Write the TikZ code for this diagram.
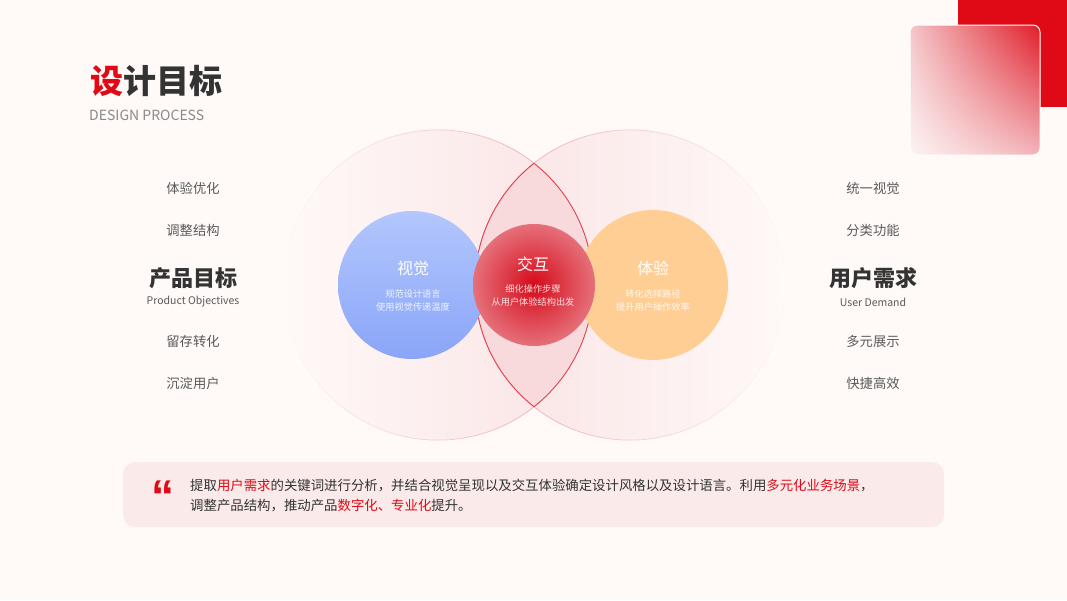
\documentclass[tikz,border=0pt]{standalone}
\usepackage{fontspec}
\setmainfont{Noto Sans CJK SC}
\newfontfamily\quotefont{Liberation Sans}
\usetikzlibrary{shadings}
\definecolor{bg}{HTML}{FFF9F8}
\definecolor{brand}{HTML}{E00A16}
\definecolor{dark}{HTML}{333333}
\definecolor{midgray}{HTML}{5A5A5A}
\definecolor{softgray}{HTML}{8A8A8A}
\definecolor{bigfill}{HTML}{FAE3E4}
\definecolor{bigline}{HTML}{EEA3AA}
\definecolor{lensfill}{HTML}{F9DADC}
\definecolor{lensline}{HTML}{E2404E}
\definecolor{blueT}{HTML}{B3C7FD}
\definecolor{blueB}{HTML}{8AA5F8}
\definecolor{redI}{HTML}{D60A19}
\definecolor{redO}{HTML}{E5707A}
\definecolor{orangeF}{HTML}{FFCE94}
\definecolor{boxfill}{HTML}{FBEAEA}
\definecolor{sqUR}{HTML}{E01C28}
\definecolor{sqUL}{HTML}{F4C6C9}
\definecolor{sqLR}{HTML}{F2B4B9}
\definecolor{sqLL}{HTML}{FDF3F3}
\begin{document}
\begin{tikzpicture}[x=1pt,y=-1pt,
  sideitem/.style={font=\fontsize{13.3}{16}\selectfont, text=midgray, inner sep=0pt},
  sidehead/.style={font=\bfseries\fontsize{22}{26}\selectfont, text=dark, inner sep=0pt},
  sidesub/.style={font=\fontsize{10.5}{13}\selectfont, text=midgray, inner sep=0pt},
  ctitle/.style={font=\fontsize{16}{19}\selectfont, text=white, inner sep=0pt},
  cline/.style={font=\fontsize{9.2}{11}\selectfont, text=white, text opacity=0.85, inner sep=0pt},
  bodytext/.style={font=\fontsize{13.4}{16}\selectfont, text=dark, anchor=west, inner sep=0pt},
  lensarc/.style={draw=lensline, line width=0.9pt}
]
\useasboundingbox (0,0) rectangle (1067,600);
\fill[bg] (0,0) rectangle (1067,600);

% title
\node[anchor=west, inner sep=0pt, font=\bfseries\fontsize{33}{38}\selectfont, text=dark] (title) at (90,81) {\textcolor{brand}{设}计目标};
\node[anchor=west, inner sep=0pt, font=\fontsize{14}{17}\selectfont, text=softgray] (subtitle) at (89,115) {DESIGN PROCESS};

% top-right decoration
\fill[brand] (958,0) rectangle (1067,107);
\shade[upper right=sqUR, upper left=sqUL, lower right=sqLR, lower left=sqLL, rounded corners=7pt] (910,25) rectangle (1040,155);
\draw[white, line width=1pt, rounded corners=7pt] (910,25) rectangle (1040,155);

% big circles: shaded fill and shaded ring as outline
\shade[left color=bg, right color=bigfill] (438,285) circle[radius=155pt];
\shade[even odd rule, left color=bg, right color=bigline] (438,285) circle[radius=155.5pt] (438,285) circle[radius=154.7pt];
\shade[left color=bigfill, right color=bg] (630,285) circle[radius=155pt];
\shade[even odd rule, left color=bigline, right color=bg] (630,285) circle[radius=155.5pt] (630,285) circle[radius=154.7pt];
\begin{scope}
  \clip (438,285) circle[radius=155pt];
  \fill[lensfill] (630,285) circle[radius=155pt];
\end{scope}
\begin{scope}
  \clip (438,285) circle[radius=155pt];
  \draw[lensarc] (630,285) circle[radius=155pt];
\end{scope}
\begin{scope}
  \clip (630,285) circle[radius=155pt];
  \draw[lensarc] (438,285) circle[radius=155pt];
\end{scope}

% small circles
\shade[top color=blueT, bottom color=blueB] (412,285) circle[radius=74pt];
\fill[orangeF] (653,285) circle[radius=75pt];
\shade[inner color=redI, outer color=redO] (534,285) circle[radius=61pt];

\node[ctitle] (vt) at (413,268) {视觉};
\node[cline] (v1) at (413,294) {规范设计语言};
\node[cline] (v2) at (413,307) {使用视觉传递温度};
\node[ctitle] (it) at (533,264) {交互};
\node[cline] (i1) at (533,289) {细化操作步骤};
\node[cline] (i2) at (533,302) {从用户体验结构出发};
\node[ctitle] (et) at (653,268) {体验};
\node[cline] (e1) at (653,294) {转化选择路径};
\node[cline] (e2) at (653,307) {提升用户操作效率};

% left column
\node[sideitem] (l1) at (193,188) {体验优化};
\node[sideitem] (l2) at (193,230) {调整结构};
\node[sidehead] (lh) at (193,278) {产品目标};
\node[sidesub] (ls) at (193,302) {Product Objectives};
\node[sideitem] (l3) at (193,341) {留存转化};
\node[sideitem] (l4) at (193,383) {沉淀用户};

% right column
\node[sideitem] (r1) at (873,188) {统一视觉};
\node[sideitem] (r2) at (873,230) {分类功能};
\node[sidehead] (rh) at (873,278) {用户需求};
\node[sidesub] (rs) at (873,302) {User Demand};
\node[sideitem] (r3) at (873,341) {多元展示};
\node[sideitem] (r4) at (873,383) {快捷高效};

% bottom quote box
\fill[boxfill, rounded corners=12pt] (123,462) rectangle (944,527);
\node[anchor=base, inner sep=0pt, text=brand, font=\quotefont\bfseries\fontsize{46}{46}\selectfont] (quote) at (163,512) {“};
\node[bodytext] (b1) at (190,486) {提取\textcolor{brand}{用户需求}的关键词进行分析，并结合视觉呈现以及交互体验确定设计风格以及设计语言。利用\textcolor{brand}{多元化业务场景}，};
\node[bodytext] (b2) at (190,506) {调整产品结构，推动产品\textcolor{brand}{数字化、专业化}提升。};
\end{tikzpicture}
\end{document}
